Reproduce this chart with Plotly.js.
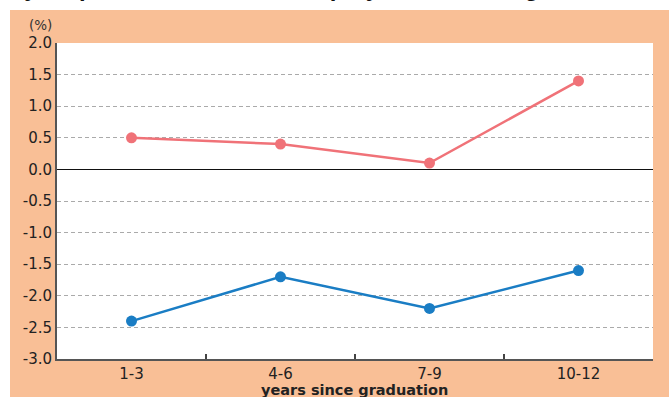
<!DOCTYPE html>
<html>
<head>
<meta charset="utf-8">
<script src="https://cdn.plot.ly/plotly-3.0.1.min.js"></script>
<style>
  html, body { margin: 0; padding: 0; background: #ffffff; width: 669px; height: 397px; overflow: hidden; }
  #bg { position: absolute; left: 10px; top: 10px; width: 659px; height: 387px; background: #F9BF96; }
  #chart { position: absolute; left: 0; top: 0; width: 669px; height: 397px; }
</style>
</head>
<body>
<div id="bg"></div>
<div id="chart"></div>
<script>
const categories = ["1-3", "4-6", "7-9", "10-12"];
const seriesRed = [0.5, 0.4, 0.1, 1.4];
const seriesBlue = [-2.4, -1.7, -2.2, -1.6];
const yTickVals = [2.0, 1.5, 1.0, 0.5, 0.0, -0.5, -1.0, -1.5, -2.0, -2.5, -3.0];
const yTickText = ["2.0", "1.5", "1.0", "0.5", "0.0", "-0.5", "-1.0", "-1.5", "-2.0", "-2.5", "-3.0"];
const titleText = "Early help boost the rate of employment and wages";
const xTitleText = "years since graduation";

const W = 669, H = 397;
const margin = { l: 57, r: 16, t: 43, b: 38 };
const pw = W - margin.l - margin.r, ph = H - margin.t - margin.b;
const px = v => (v - margin.l) / pw;
const py = v => 1 - (v - margin.t) / ph;

const font = "DejaVu Sans, Verdana, sans-serif";

const traces = [
  { x: categories, y: seriesRed, type: "scatter", mode: "lines+markers",
    line: { color: "#F07278", width: 2.5 }, marker: { color: "#F07278", size: 11 }, cliponaxis: false },
  { x: categories, y: seriesBlue, type: "scatter", mode: "lines+markers",
    line: { color: "#1A7DC4", width: 2.5 }, marker: { color: "#1A7DC4", size: 11 }, cliponaxis: false }
];

const layout = {
  width: W, height: H,
  margin: margin,
  paper_bgcolor: "rgba(0,0,0,0)",
  plot_bgcolor: "#ffffff",
  showlegend: false,
  font: { family: font, size: 15, color: "#222222" },
  xaxis: {
    type: "category",
    range: [-0.5, 3.5],
    tickson: "boundaries",
    ticks: "inside", ticklen: 5, tickwidth: 1.2, tickcolor: "#444444",
    showline: true, linecolor: "#555555", linewidth: 2,
    showgrid: false, zeroline: false,
    tickfont: { family: font, size: 15, color: "#222222" },
    fixedrange: true
  },
  yaxis: {
    range: [-3, 2],
    tickmode: "array", tickvals: yTickVals, ticktext: yTickText,
    ticks: "",
    showline: true, linecolor: "#555555", linewidth: 2,
    showgrid: true, gridcolor: "#aaaaaa", gridwidth: 1, griddash: "4px,3px",
    zeroline: true, zerolinecolor: "#111111", zerolinewidth: 1.3,
    tickfont: { family: font, size: 15, color: "#222222" },
    fixedrange: true
  },
  annotations: [
    { text: "(%)", xref: "paper", yref: "paper", x: px(40), y: py(25), xanchor: "center", yanchor: "middle",
      showarrow: false, font: { family: font, size: 13.5, color: "#333333" } },
    { text: "<b>" + xTitleText + "</b>", xref: "paper", yref: "paper", x: px(354), y: py(381),
      xanchor: "center", yanchor: "top", showarrow: false, borderpad: 0,
      font: { family: font, size: 14.5, color: "#222222" } },
    { text: "<b>" + titleText + "</b>", xref: "paper", yref: "paper", x: px(-22), y: py(2),
      xanchor: "left", yanchor: "bottom", showarrow: false, borderpad: 0,
      font: { family: "Liberation Sans, Arial, sans-serif", size: 24, color: "#111111" } }
  ]
};

Plotly.newPlot("chart", traces, layout, { staticPlot: true, displayModeBar: false });
</script>
</body>
</html>
